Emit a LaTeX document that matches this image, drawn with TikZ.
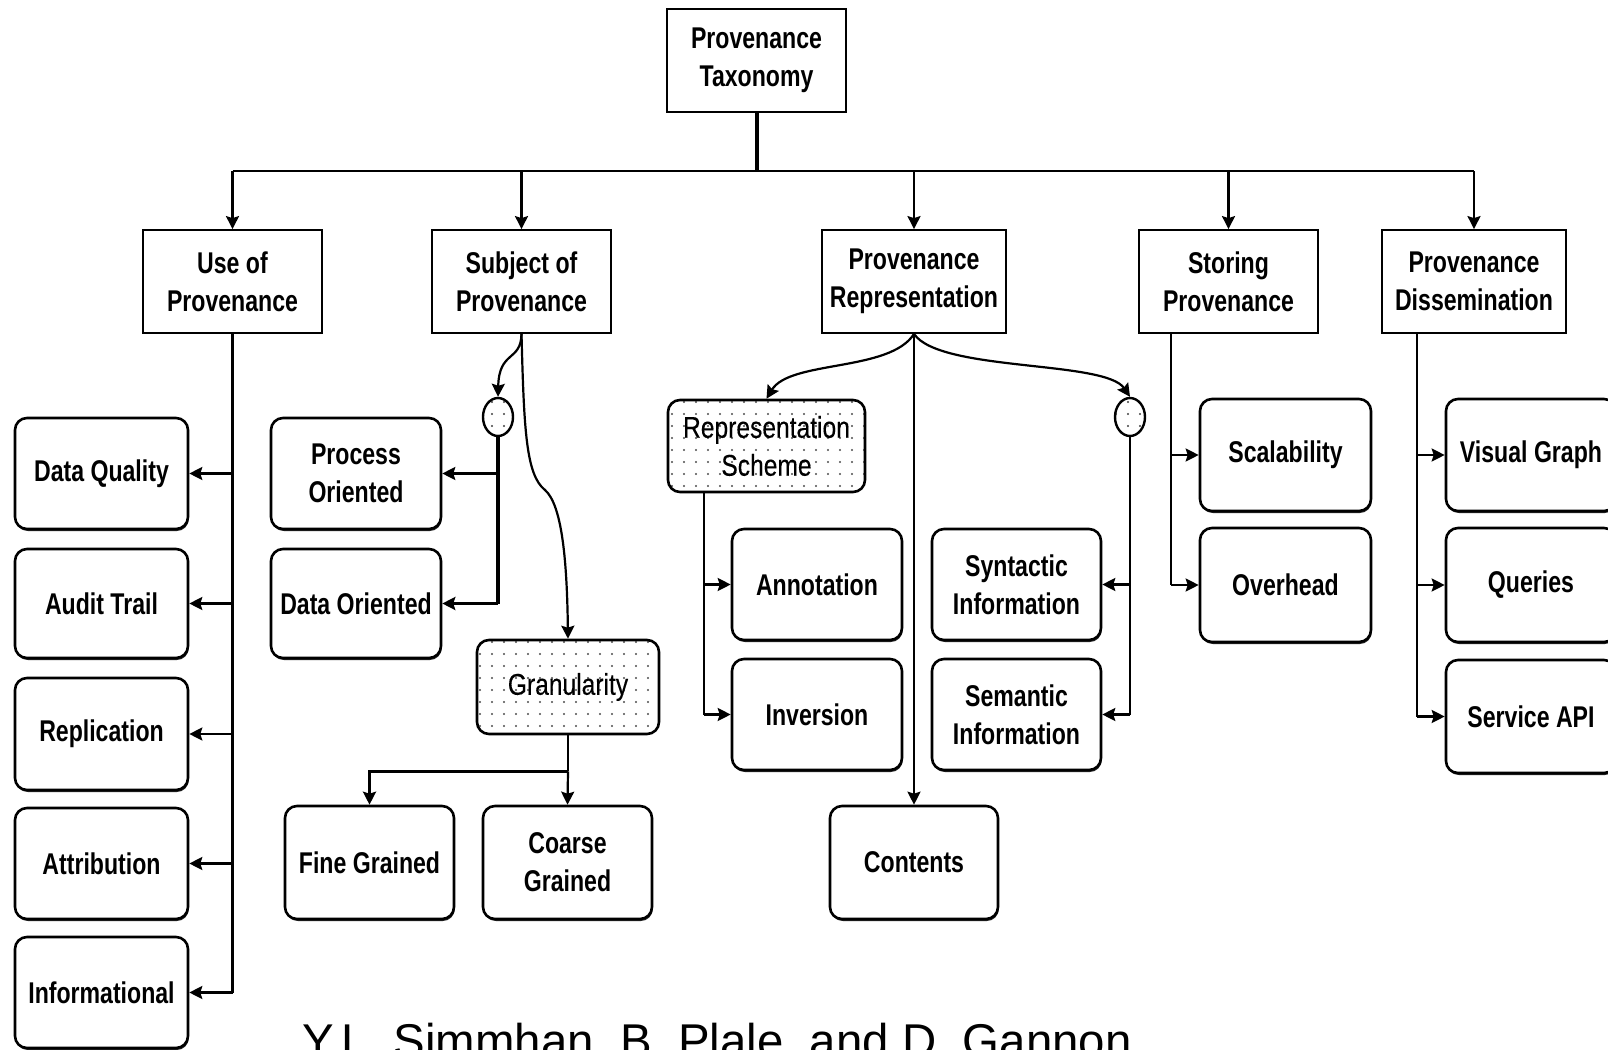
\documentclass[tikz,border=0pt]{standalone}
\usepackage{fontspec}
\setmainfont{Liberation Sans}
\newfontfamily\narrowfont[FakeStretch=0.77]{Liberation Sans Bold}
\newfontfamily\narrowlight[FakeStretch=0.82,FakeBold=0.3]{Liberation Sans}
\usetikzlibrary{arrows.meta,shapes.geometric,patterns.meta,calc,shadows}

% sparse dot fill used by the grouping boxes and junctions
\tikzdeclarepattern{
  name=sparsedots,
  type=uncolored,
  bottom left={(-.6pt,-.6pt)},
  top right={(5.6pt,5.6pt)},
  tile size={(6pt,6pt)},
  code={\fill (0pt,0pt) circle (0.55pt);}
}

\begin{document}
\begin{tikzpicture}[x=0.5pt,y=-0.5pt,
  every node/.style={font=\narrowfont\fontsize{15}{19}\selectfont, align=center, inner sep=0pt},
  sz/.style 2 args={minimum width=#1pt, minimum height=#2pt},
  cat/.style={draw, line width=0.9pt},
  leaf/.style={draw, fill=white, rounded corners=6pt, line width=1.3pt,
    drop shadow={shadow xshift=0.4pt, shadow yshift=-1pt, fill=black, opacity=0.85}},
  dotbox/.style={draw, rounded corners=6pt, line width=1.3pt,
    pattern=sparsedots, pattern color=black!70,
    font=\narrowlight\fontsize{15}{19}\selectfont},
  junction/.style={ellipse, draw, line width=1.2pt, pattern=sparsedots, pattern color=black!75,
    minimum width=15pt, minimum height=19pt},
  conn/.style={line width=1.1pt},
  thick conn/.style={line width=1.8pt},
  arr/.style={conn, -{Stealth[length=6.5pt,width=6.5pt,inset=1pt]}},
]
\useasboundingbox (0,0) rectangle (1608,1050);
\clip (0,0) rectangle (1608,1050);

% root and first level
\node[cat, sz={89.5}{51.5}] (root) at (756.5,60.5) {Provenance\\Taxonomy};
\node[cat, sz={89.5}{51.5}] (use)  at (232.5,281.5) {Use of\\Provenance};
\node[cat, sz={89.5}{51.5}] (subj) at (521.5,281.5) {Subject of\\Provenance};
\node[cat, sz={92}{51.5}]   (repr) at (914,281.5) {Provenance\\Representation};
\node[cat, sz={89.5}{51.5}] (stor) at (1228.5,281.5) {Storing\\Provenance};
\node[cat, sz={92}{51.5}]   (diss) at (1474,281.5) {Provenance\\Dissemination};

% use of provenance
\node[leaf, sz={86.5}{55.5}] (dq)    at (101.5,473.5) {Data Quality};
\node[leaf, sz={86.5}{54.5}] (audit) at (101.5,603.5) {Audit Trail};
\node[leaf, sz={86.5}{56}]   (repl)  at (101.5,734) {Replication};
\node[leaf, sz={86.5}{55.5}] (attr)  at (101.5,863.5) {Attribution};
\node[leaf, sz={86.5}{55.5}] (info)  at (101.5,992.5) {Informational};

% subject of provenance
\node[junction] (jL) at (498,417) {};
\node[leaf, sz={85}{55.5}]   (po)     at (356,473.5) {Process\\Oriented};
\node[leaf, sz={85}{54.5}]   (doo)    at (356,603.5) {Data Oriented};
\node[dotbox, sz={91}{47}]   (gran)   at (568,687) {Granularity};
\node[leaf, sz={84.5}{56.5}] (fine)   at (369.5,862.5) {Fine Grained};
\node[leaf, sz={84.5}{56.5}] (coarse) at (567.5,862.5) {Coarse\\Grained};

% provenance representation
\node[dotbox, sz={98.5}{46}] (rs)   at (766.5,446) {Representation\\Scheme};
\node[leaf, sz={85}{55.5}]   (ann)  at (817,584.5) {Annotation};
\node[leaf, sz={85}{55.5}]   (inv)  at (817,714.5) {Inversion};
\node[junction] (jR) at (1130,417) {};
\node[leaf, sz={84.5}{55.5}] (syn)  at (1016.5,584.5) {Syntactic\\Information};
\node[leaf, sz={84.5}{55.5}] (sem)  at (1016.5,714.5) {Semantic\\Information};
\node[leaf, sz={84}{56.5}]   (cont) at (914,862.5) {Contents};

% storing provenance
\node[leaf, sz={85.5}{56}] (scal) at (1285.5,455) {Scalability};
\node[leaf, sz={85.5}{57}] (ovh)  at (1285.5,585) {Overhead};

% provenance dissemination
\node[leaf, sz={85}{56}]   (vg)  at (1531,455) {Visual Graph};
\node[leaf, sz={85}{57}]   (qry) at (1531,585) {Queries};
\node[leaf, sz={85}{56.5}] (api) at (1531,716.5) {Service API};

% trunk and top bar
\coordinate (barL) at (232.5,171);
\coordinate (barR) at (1474,171);
\draw[line width=2pt] (root.south) -- (root.south |- barL);
\draw[conn] (barL) -- (barR);
\foreach \n in {use,subj,repr,stor,diss}
  \draw[arr] (barL -| \n.north) -- (\n.north);

% use of provenance branches
\draw[conn] (use.south) -- (use.south |- info.east);
\foreach \n in {dq,audit,repl,attr,info}
  \draw[arr] (use.south |- \n.east) -- (\n.east);

% subject of provenance branches
\draw[arr] (subj.south) .. controls (521,362) and (499,350) .. (jL.north);
\draw[thick conn] (jL.south) -- (jL.south |- doo.east);
\draw[arr] (jL.south |- po.east) -- (po.east);
\draw[arr, thick conn] (jL.south |- doo.east) -- (doo.east);
\draw[arr] (subj.south) .. controls (524,430) and (526,475) .. (545,490)
  .. controls (562,505) and (567,560) .. (gran.north);
\coordinate (gs) at ($(gran.south)+(0,36)$);
\draw[conn] (gran.south) -- (gs);
\draw[arr] (gs) -- (coarse.north);
\draw[arr, thick conn] (gs) -| (fine.north);

% representation branches
\draw[arr] (repr.south) .. controls (890,372) and (790,360) .. (rs.north);
\draw[arr] (repr.south) .. controls (940,372) and (1105,360) .. (jR.north);
\draw[arr] (repr.south) -- (cont.north);
\coordinate (rsb) at ($(rs.south west)+(37,0)$);
\draw[conn] (rsb) -- (rsb |- inv.west);
\draw[arr] (rsb |- ann.west) -- (ann.west);
\draw[arr] (rsb |- inv.west) -- (inv.west);
\draw[conn] (jR.south) -- (jR.south |- sem.east);
\draw[arr] (jR.south |- syn.east) -- (syn.east);
\draw[arr] (jR.south |- sem.east) -- (sem.east);

% storing branches
\coordinate (stb) at ($(stor.south west)+(33,0)$);
\draw[conn] (stb) -- (stb |- ovh.west);
\draw[arr] (stb |- scal.west) -- (scal.west);
\draw[arr] (stb |- ovh.west) -- (ovh.west);

% dissemination branches
\coordinate (dsb) at ($(diss.south west)+(36,0)$);
\draw[conn] (dsb) -- (dsb |- api.west);
\foreach \n in {vg,qry,api}
  \draw[arr] (dsb |- \n.west) -- (\n.west);

% credit line
\node[anchor=base west, font=\fontsize{23.7}{28}\selectfont] (credit) at (302,1057)
  {Y.L. Simmhan, B. Plale, and D. Gannon};
\end{tikzpicture}
\end{document}
